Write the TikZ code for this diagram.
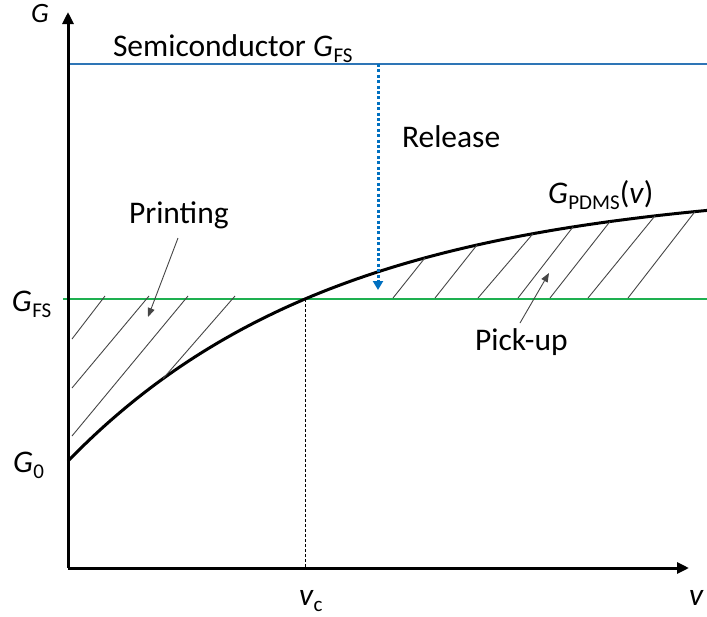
\documentclass[tikz,border=0pt]{standalone}
\usepackage{fontspec}
\setmainfont{Carlito}
\usetikzlibrary{arrows.meta}
\newcommand\lowsub[1]{{\fontsize{21}{21}\selectfont\raisebox{-6pt}{#1}}}
\newcommand\ivar[1]{\textit{#1}\kern0.5pt}
\newcommand\cy[1]{{185+276*exp(-(#1-68)/268)}}
\definecolor{semiblue}{RGB}{46,117,182}
\definecolor{relblue}{RGB}{0,112,192}
\definecolor{fsgreen}{RGB}{30,176,80}
\definecolor{hatchgray}{RGB}{70,70,70}
\begin{document}
\begin{tikzpicture}[x=1pt,y=-1pt,
  every node/.style={inner sep=0pt,outer sep=0pt},
  lbl/.style={font=\fontsize{31.5}{36}\selectfont,anchor=base west},
  axis/.style={line width=3pt,-{Triangle[length=12pt,width=11pt]}},
  curve/.style={line width=3pt,black},
  hatch/.style={line width=0.9pt,hatchgray},
  pointer/.style={line width=0.9pt,hatchgray,-{Triangle[length=9pt,width=7pt]}},
  level/.style={line width=2.4pt}]
\useasboundingbox (0,0) rectangle (707,616);
% axes
\coordinate (O) at (68,568);
\coordinate (ytop) at (68,12);
\coordinate (xend) at (689,568);
% levels
\coordinate (bl) at (68,64);
\coordinate (br) at (707,64);
\coordinate (gl) at (63,299);
\coordinate (gr) at (707,299);
\draw[level,semiblue] (bl) -- (br);
\draw[level,fsgreen,line width=2.8pt] (gl) -- (gr);
% curve
\draw[curve] plot[domain=68:707,samples=150] (\x,{185+276*exp(-(\x-68)/268)});
% hatching, printing region
\coordinate (p1a) at (72,339);  \coordinate (p1b) at (105,296);
\coordinate (p2a) at (72,388);  \coordinate (p2b) at (149,296);
\coordinate (p3a) at (72,436);  \coordinate (p3b) at (188,296);
\coordinate (p4a) at (163,\cy{163}); \coordinate (p4b) at (235,296);
\foreach \i in {1,...,4} \draw[hatch] (p\i a) -- (p\i b);
% hatching, pick-up region
\coordinate (q1a) at (393,298); \coordinate (q1b) at (425,\cy{425});
\coordinate (q2a) at (435,298); \coordinate (q2b) at (477,\cy{477});
\coordinate (q3a) at (478,298); \coordinate (q3b) at (533,\cy{533});
\coordinate (q4a) at (518,298); \coordinate (q4b) at (573,\cy{573});
\coordinate (q5a) at (550,298); \coordinate (q5b) at (610,\cy{610});
\coordinate (q6a) at (588,298); \coordinate (q6b) at (655,\cy{655});
\coordinate (q7a) at (628,298); \coordinate (q7b) at (695,\cy{695});
\foreach \i in {1,...,7} \draw[hatch] (q\i a) -- (q\i b);
% critical velocity
\coordinate (cross) at (305,299);
\coordinate (cfoot) at (305,568);
\draw[line width=0.8pt,dash pattern=on 3pt off 2pt] (cross) -- (cfoot);
% axes on top
\draw[axis] (O) -- (ytop);
\draw[axis] (O) -- (xend);
% release arrow
\coordinate (rtop) at (378,64);
\coordinate (rbot) at (378,290);
\draw[relblue,line width=3pt,dash pattern=on 3pt off 2.4pt,-{Triangle[length=9pt,width=10pt]}] (rtop) -- (rbot);
% labels
\node[lbl,font=\fontsize{28}{32}\selectfont] (Gax) at (31,22) {\textit{G}};
\node[lbl] (semi) at (113,56) {Semiconductor \ivar{G}\lowsub{FS}};
\node[lbl] (rel) at (402,147) {Release};
\node[lbl] (gpdms) at (548,203) {\ivar{G}\lowsub{PDMS}(\textit{v})};
\node[lbl] (print) at (129,223) {Printing};
\node[lbl] (pick) at (475,350) {Pick-up};
\node[lbl] (gfs) at (12,311) {\ivar{G}\lowsub{FS}};
\node[lbl] (g0) at (13,472) {\ivar{G}\lowsub{0}};
\node[lbl] (vc) at (299,605) {\textit{v}\lowsub{c}};
\node[lbl] (vax) at (689,605) {\textit{v}};
% pointers
\coordinate (pstart) at (178,238);
\coordinate (ptip) at (148,317);
\coordinate (qstart) at (520,323);
\coordinate (qtip) at (549,273);
\draw[pointer] (pstart) -- (ptip);
\draw[pointer] (qstart) -- (qtip);
\end{tikzpicture}
\end{document}
